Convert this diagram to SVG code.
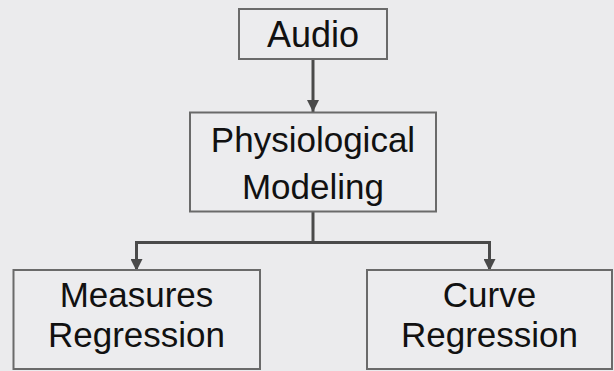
<svg xmlns="http://www.w3.org/2000/svg" width="614" height="371" viewBox="0 0 614 371">
<defs>
<style>
.box{fill:#ececee;stroke:#6a6a6a;stroke-width:2}
.t{font-family:"Liberation Sans",Arial,sans-serif;font-size:35px;fill:#111;text-anchor:middle}
.c{fill:none;stroke:#4a4a4a;stroke-width:3}
</style>
<marker id="ah" viewBox="0 0 12 12" refX="12" refY="6" markerWidth="12" markerHeight="12" markerUnits="userSpaceOnUse" orient="auto">
<path d="M0,0 L12,6 L0,12 Z" fill="#4a4a4a"/>
</marker>
</defs>
<rect width="614" height="371" fill="#ebebed"/>
<g id="connectors">
<line class="c" x1="313" y1="60" x2="313" y2="112" marker-end="url(#ah)"/>
<line class="c" x1="313" y1="212" x2="313" y2="242.5"/>
<path class="c" d="M313,242.5 H136.5 V271" marker-end="url(#ah)"/>
<path class="c" d="M313,242.5 H489.5 V271" marker-end="url(#ah)"/>
</g>
<g id="audio">
<rect class="box" x="239" y="9" width="148" height="50"/>
<text class="t" x="313" y="46.5" style="font-size:36px">Audio</text>
</g>
<g id="physio">
<rect class="box" x="190" y="112.5" width="246" height="99"/>
<text class="t" x="313" y="151.5">Physiological</text>
<text class="t" x="313" y="199">Modeling</text>
</g>
<g id="measures">
<rect class="box" x="13.5" y="270" width="246.5" height="99"/>
<text class="t" x="136.5" y="307">Measures</text>
<text class="t" x="136.5" y="347">Regression</text>
</g>
<g id="curve">
<rect class="box" x="367" y="270" width="245" height="99"/>
<text class="t" x="489.5" y="307">Curve</text>
<text class="t" x="489.5" y="347">Regression</text>
</g>
</svg>
